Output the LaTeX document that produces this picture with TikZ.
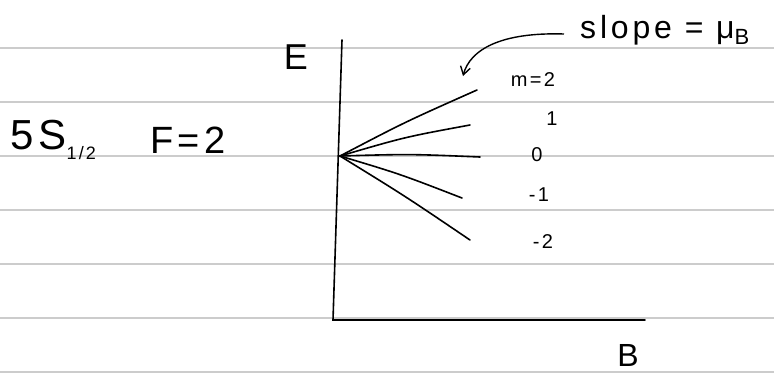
\documentclass[tikz,border=0pt]{standalone}
\usepackage{fontspec}
\setmainfont{Liberation Sans}
\usetikzlibrary{arrows.meta}
\begin{document}
\begin{tikzpicture}[x=1pt,y=-1pt,
  rule/.style={draw=black!20,line width=1.2pt},
  axis/.style={draw=black,line width=1.6pt,line cap=round},
  level/.style={draw=black,line width=1.6pt,line cap=round},
  hand/.style={inner sep=0pt,font=\fontsize{#1}{#1}\selectfont\addfontfeatures{LetterSpace=12}},
  hand/.default=20]
\useasboundingbox (0,0) rectangle (774,376);
\fill[white] (0,0) rectangle (774,376);
% ruled paper lines
\foreach \yy in {48,102,156,210,264,318,372}
  \draw[rule] (0,\yy) -- (774,\yy);
% axes
\coordinate (top) at (342,40);
\coordinate (orig) at (333,320);
\coordinate (right) at (645,320);
\draw[axis] (top) -- (orig) -- (right);
% fan of levels
\coordinate (O) at (340,156);
\coordinate (e2) at (477,90);
\coordinate (e1) at (470,125);
\coordinate (e0) at (480,157);
\coordinate (em1) at (462,198);
\coordinate (em2) at (470,240);
\draw[level] (O) .. controls (405,122) .. (e2);
\draw[level] (O) .. controls (405,137) .. (e1);
\draw[level] (O) .. controls (410,154) .. (e0);
\draw[level] (O) .. controls (400,174) .. (em1);
\draw[level] (O) .. controls (405,196) .. (em2);
% labels
\node[hand=36] (E) at (296,57) {E};
\node[hand=32] (B) at (628,355) {B};
\node[hand=42,anchor=west] (state) at (10,140) {5S\raisebox{-10pt}{\fontsize{18}{18}\selectfont 1/2}};
\node[hand=38,anchor=west] (F) at (150,140) {F=2};
\node[hand=20] (lm2) at (533,80) {m=2};
\node[hand=20] (l1) at (552,119) {1};
\node[hand=20] (l0) at (537,155) {0};
\node[hand=20] (lm1) at (539,195) {-1};
\node[hand=20] (lm2b) at (543,242) {-2};
\node[hand=32,anchor=west] (slope) at (580,30) {slope = μ\raisebox{-6pt}{\fontsize{22}{22}\selectfont B}};
\draw[draw=black,line width=1.4pt,-{Straight Barb[length=8pt,width=10pt]}]
  ([xshift=-16pt,yshift=-4pt]slope.west) .. controls (500,32) and (470,50) .. (463,76);
\end{tikzpicture}
\end{document}
